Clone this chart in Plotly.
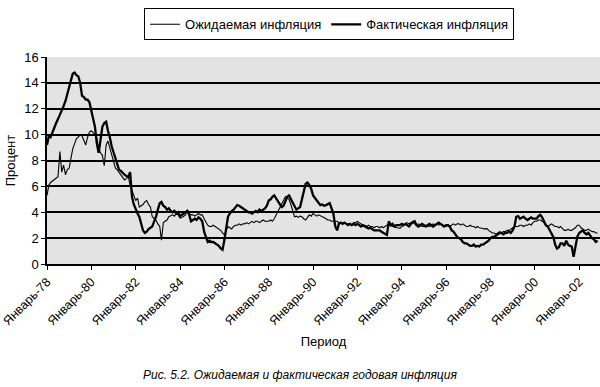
import pandas as pd
import plotly.graph_objects as go

# Monthly data, Jan 1978 .. Nov 2002
actual = [
    9.2, 9.9, 9.8, 10.2, 10.5, 10.9, 11.2, 11.5, 11.9, 12.2, 12.6, 13.1,   # 1978
    13.6, 14.1, 14.7, 14.8, 14.6, 14.5, 14.0, 13.0, 12.9, 12.7, 12.7, 12.5, # 1979
    11.7, 11.2, 10.6, 9.3, 8.6, 9.6, 10.6, 10.9, 11.0, 10.3, 9.8, 9.1,    # 1980
    8.6, 8.1, 7.65, 7.3, 7.2, 7.0, 6.9, 6.8, 6.75, 7.1, 5.2, 4.6,         # 1981
    4.2, 3.9, 3.65, 3.1, 2.6, 2.4, 2.5, 2.7, 2.8, 2.9, 3.3, 3.65,         # 1982
    4.2, 4.7, 4.8, 4.5, 4.4, 4.2, 4.3, 4.1, 4.0, 4.1, 3.9, 4.0,           # 1983
    3.7, 3.8, 3.9, 4.0, 4.1, 3.8, 3.3, 3.4, 3.5, 3.4, 3.6, 3.5,           # 1984
    3.3, 2.5, 2.1, 1.7, 1.8, 1.7, 1.7, 1.6, 1.5, 1.4, 1.2, 1.1,           # 1985
    1.85, 2.8, 3.65, 3.9, 4.1, 4.2, 4.4, 4.55, 4.5, 4.4, 4.3, 4.2,        # 1986
    4.1, 4.0, 4.0, 3.9, 4.0, 4.1, 4.0, 4.2, 4.1, 4.2, 4.3, 4.5,           # 1987
    4.9, 5.0, 5.2, 5.3, 5.1, 4.8, 4.6, 4.4, 4.5, 4.9, 5.2, 5.3,           # 1988
    5.0, 4.8, 4.5, 4.2, 4.3, 4.4, 5.0, 5.6, 6.2, 6.3, 6.1, 5.8,           # 1989
    5.3, 5.1, 4.9, 4.7, 4.55, 4.6, 4.5, 4.55, 4.6, 4.7, 4.3, 3.9,         # 1990
    2.9, 2.6, 3.1, 3.2, 3.1, 3.2, 3.1, 3.0, 3.1, 3.0, 3.1, 3.0,           # 1991
    3.1, 3.0, 2.9, 3.0, 2.9, 2.8, 2.75, 2.8, 2.7, 2.6, 2.6, 2.6,          # 1992
    2.6, 2.5, 2.4, 2.3, 2.25, 3.3, 3.0, 3.1, 2.9, 3.0, 3.0, 3.0,          # 1993
    3.1, 3.0, 3.1, 3.0, 2.9, 3.1, 3.2, 3.3, 3.0, 2.9, 3.0, 3.1,           # 1994
    3.0, 2.9, 3.0, 3.1, 3.0, 2.9, 3.0, 3.1, 3.2, 3.1, 3.0, 2.9,           # 1995
    3.0, 3.0, 2.9, 2.6, 2.5, 2.3, 2.1, 2.0, 1.9, 1.7, 1.6, 1.6,           # 1996
    1.5, 1.4, 1.4, 1.5, 1.35, 1.4, 1.35, 1.5, 1.5, 1.6, 1.7, 1.8,         # 1997
    2.0, 2.1, 2.1, 2.2, 2.3, 2.4, 2.4, 2.3, 2.4, 2.4, 2.5, 2.4,           # 1998
    2.6, 2.9, 3.65, 3.7, 3.5, 3.6, 3.65, 3.5, 3.4, 3.5, 3.6, 3.5,         # 1999
    3.5, 3.5, 3.7, 3.8, 3.6, 3.3, 3.0, 2.9, 2.6, 2.3, 2.1, 1.5,           # 2000
    1.2, 1.3, 1.6, 1.6, 1.4, 1.8, 1.5, 1.4, 1.35, 0.55, 1.5, 2.1,         # 2001
    2.4, 2.5, 2.6, 2.4, 2.3, 2.4, 2.2, 2.0, 1.9, 1.7, 1.8,                # 2002
]

expected = [
    5.3, 6.1, 6.3, 6.4, 6.5, 6.6, 6.75, 8.7, 7.1, 7.65, 6.9, 7.3,         # 1978
    7.4, 8.2, 8.9, 9.3, 9.7, 9.8, 10.0, 9.9, 9.6, 9.2, 9.8, 10.2,         # 1979
    10.3, 10.1, 10.0, 9.7, 8.9, 8.6, 8.4, 7.6, 9.2, 9.5, 9.0, 8.4,        # 1980
    8.0, 7.4, 7.3, 7.1, 6.9, 6.7, 6.5, 6.6, 6.75, 6.1, 5.6, 5.3,          # 1981
    4.9, 5.1, 4.4, 4.5, 4.6, 4.8, 4.9, 4.6, 4.4, 3.65, 3.5, 3.4,          # 1982
    3.1, 2.9, 1.85, 3.2, 3.3, 3.4, 3.65, 3.7, 3.8, 3.7, 3.9, 3.8,         # 1983
    3.55, 3.6, 3.7, 3.8, 4.2, 3.9, 3.8, 3.8, 3.7, 3.8, 3.9, 3.8,          # 1984
    3.8, 3.5, 3.2, 3.0, 2.9, 2.9, 3.0, 2.9, 2.8, 2.7, 2.6, 2.4,           # 1985
    2.25, 2.6, 2.9, 2.8, 2.7, 2.9, 3.0, 3.0, 3.1, 3.0, 3.1, 3.1,          # 1986
    3.2, 3.1, 3.2, 3.3, 3.2, 3.3, 3.3, 3.2, 3.3, 3.4, 3.3, 3.3,           # 1987
    3.3, 3.4, 3.3, 3.5, 3.8, 4.0, 4.4, 4.7, 4.9, 5.2, 5.1, 5.0,           # 1988
    4.6, 4.1, 3.65, 3.7, 3.6, 3.7, 3.65, 3.5, 3.4, 3.6, 3.8, 3.7,         # 1989
    3.9, 3.8, 3.7, 3.8, 3.7, 3.65, 3.6, 3.5, 3.4, 3.4, 3.3, 3.3,          # 1990
    3.3, 3.3, 3.2, 3.2, 3.1, 3.2, 3.1, 3.1, 3.1, 3.0, 3.2, 3.2,           # 1991
    3.3, 3.2, 3.1, 3.0, 3.0, 2.9, 3.0, 2.9, 2.9, 2.8, 2.9, 2.9,           # 1992
    2.8, 2.9, 2.8, 2.9, 3.0, 3.1, 3.0, 2.9, 2.9, 2.8, 2.8, 2.75,          # 1993
    2.9, 3.0, 3.1, 3.2, 3.1, 3.2, 3.3, 3.1, 3.0, 3.1, 3.0, 2.9,           # 1994
    2.9, 3.0, 2.9, 2.9, 3.0, 3.1, 3.0, 3.1, 3.0, 3.1, 3.0, 2.9,           # 1995
    2.9, 3.0, 2.9, 3.0, 3.1, 3.0, 3.1, 3.1, 3.0, 3.1, 3.0, 2.9,           # 1996
    2.9, 3.0, 2.9, 2.9, 2.8, 2.9, 2.8, 2.8, 2.75, 2.7, 2.75, 2.6,         # 1997
    2.5, 2.4, 2.4, 2.3, 2.4, 2.5, 2.4, 2.5, 2.5, 2.6, 2.6, 2.7,           # 1998
    2.8, 2.9, 2.9, 2.9, 3.0, 3.0, 2.9, 3.0, 3.0, 3.1, 3.0, 3.2,           # 1999
    3.3, 3.3, 3.4, 3.4, 3.3, 3.2, 3.0, 2.9, 3.0, 3.1, 3.0, 2.9,           # 2000
    2.9, 2.8, 2.9, 2.7, 2.6, 2.6, 2.7, 2.6, 2.6, 2.7, 2.8, 3.0,           # 2001
    3.0, 2.8, 2.7, 2.6, 2.6, 2.7, 2.6, 2.5, 2.5, 2.4, 2.4,                # 2002
]

tick_years = list(range(1978, 2003, 2))
tick_labels = ["Январь-%02d" % (y % 100) for y in tick_years]

dates = pd.date_range("1978-01-01", periods=len(actual), freq="MS")
tick_vals = [pd.Timestamp(f"{y}-01-01") for y in tick_years]

fig = go.Figure()
fig.add_trace(go.Scatter(x=dates, y=expected, mode="lines",
                         name="Ожидаемая инфляция",
                         line=dict(color="black", width=1.1)))
fig.add_trace(go.Scatter(x=dates, y=actual, mode="lines",
                         name="Фактическая инфляция",
                         line=dict(color="black", width=2.3)))

fig.update_layout(
    width=600, height=387,
    margin=dict(l=47, r=0, t=57, b=123, autoexpand=False),
    paper_bgcolor="white",
    plot_bgcolor="#e3e3e3",
    font=dict(family="Liberation Sans, Arial, sans-serif", size=12, color="black"),
    showlegend=True,
    legend=dict(orientation="h", x=0.51, xanchor="center",
                y=1.235, yanchor="top",
                bordercolor="black", borderwidth=1,
                bgcolor="white", font=dict(size=13),
                itemwidth=30, tracegroupgap=0),
    xaxis=dict(
        range=[pd.Timestamp("1978-01-01"), pd.Timestamp("2002-12-10")],
        tickvals=tick_vals, ticktext=tick_labels, tickangle=-45,
        ticklabeloverflow="allow",
        showgrid=False, showline=True, linecolor="black", linewidth=1.5,
        ticks="outside", ticklen=4, tickcolor="black",
        tickfont=dict(size=12.5),
        title=dict(text="Период", font=dict(size=13), standoff=10),
        zeroline=False,
    ),
    yaxis=dict(
        range=[0, 16], dtick=2, showgrid=True, gridcolor="black", gridwidth=1.5,
        showline=True, linecolor="black", linewidth=1.5,
        ticks="outside", ticklen=4, tickcolor="black",
        tickfont=dict(size=13),
        title=dict(text="Процент", font=dict(size=13), standoff=6),
        zeroline=False,
    ),
)

fig.add_annotation(text="<i>Рис. 5.2. Ожидаемая и фактическая годовая инфляция</i>",
                   xref="paper", yref="paper", x=0.458, y=-0.536, xanchor="center",
                   yanchor="middle", showarrow=False, font=dict(size=12))

# remove the browser's default 8px page margin so the figure fills the window
fig.write_html("out.html", config={"displayModeBar": False},
               post_script="document.body.style.margin='0';")
